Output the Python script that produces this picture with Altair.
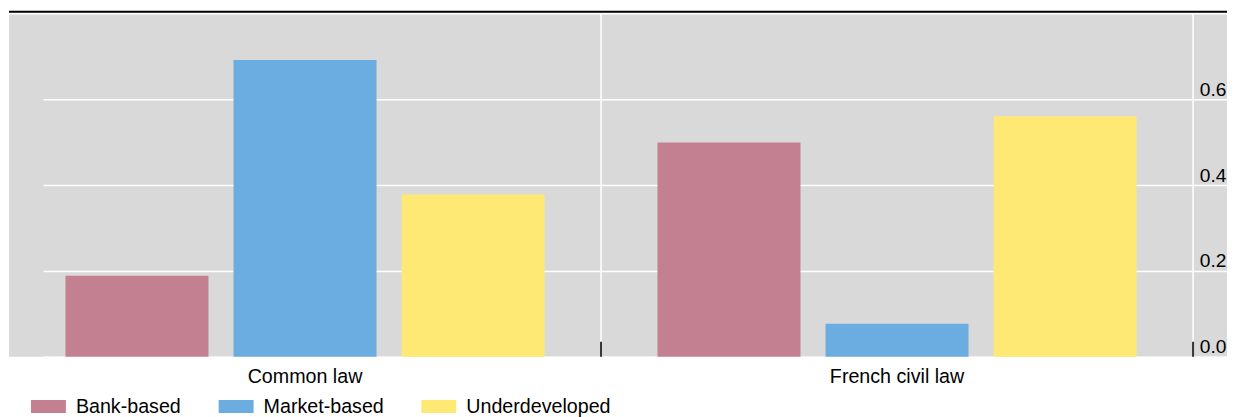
import altair as alt
import pandas as pd

groups = ["Common law", "French civil law"]
types = ["Bank-based", "Market-based", "Underdeveloped"]
common_law = [0.189, 0.691, 0.378]
french_civil_law = [0.499, 0.077, 0.560]
colors = ["#C38090", "#6BADE1", "#FFE975"]
y_ticks = [0.0, 0.2, 0.4, 0.6]

rows = []
for g, vals in zip(groups, [common_law, french_civil_law]):
    for t, v in zip(types, vals):
        rows.append({"group": g, "type": t, "value": v})
df = pd.DataFrame(rows)
gdf = pd.DataFrame({"group": groups})

W, H = 1220, 344
FONT = "Liberation Sans"
FS = 19.7

x_scale = alt.Scale(domain=groups, range=[0, 1186], paddingInner=0, paddingOuter=0)
x_axis = alt.Axis(title=None, domain=False, ticks=False, labelPadding=10,
                  labelFontSize=FS, labelFont=FONT, labelColor="black", labelAngle=0)
y_axis = alt.Axis(orient="right", values=y_ticks, format=".1f", title=None, domain=False,
                  ticks=False, tickSize=0, labelAlign="right", labelBaseline="bottom",
                  labelPadding=-1, labelFontSize=19.2, labelFont=FONT, labelColor="black",
                  grid=True, gridColor="white", gridWidth=1.5)

vlines = alt.Chart(gdf).mark_rule(color="white", strokeWidth=1.5).encode(
    x=alt.X("group:N", bandPosition=1, scale=x_scale, axis=x_axis)
)

bars = alt.Chart(df).mark_bar().encode(
    x=alt.X("group:N", scale=x_scale, axis=x_axis),
    xOffset=alt.XOffset("type:N", sort=types,
                        scale=alt.Scale(domain=types, paddingInner=0.149, paddingOuter=0.336)),
    y=alt.Y("value:Q", scale=alt.Scale(domain=[0, 0.8], nice=False), axis=y_axis),
    color=alt.Color("type:N", sort=types,
                    scale=alt.Scale(domain=types, range=colors),
                    legend=alt.Legend(title=None, orient="none", direction="horizontal",
                                      legendX=22, legendY=376,
                                      symbolType="M-1,-0.371L1,-0.371L1,0.371L-1,0.371Z",
                                      symbolSize=1225, symbolStrokeWidth=0, symbolOpacity=1,
                                      labelFontSize=FS, labelFont=FONT, labelColor="black",
                                      labelOffset=10, columnPadding=37, padding=0)),
)

ticks = alt.Chart(gdf).mark_rule(color="#333333", strokeWidth=2).encode(
    x=alt.X("group:N", bandPosition=1, scale=x_scale, axis=x_axis),
    y=alt.value(H - 15), y2=alt.value(H)
)

topwhite = alt.Chart(gdf.head(1)).mark_rule(color="white", strokeWidth=1.5).encode(
    x=alt.value(0), x2=alt.value(W), y=alt.value(0.5)
)
topline = alt.Chart(gdf.head(1)).mark_rule(color="black", strokeWidth=2).encode(
    x=alt.value(0), x2=alt.value(W), y=alt.value(-1.5)
)

chart = alt.layer(vlines, topwhite, bars, ticks, topline).properties(
    width=W, height=H,
    padding={"left": 0, "top": 2, "right": 0, "bottom": 0},
    background="white",
).configure_view(fill="#D9D9D9", strokeWidth=0)

chart.save("out.html", embed_options={"renderer": "svg", "actions": False})
